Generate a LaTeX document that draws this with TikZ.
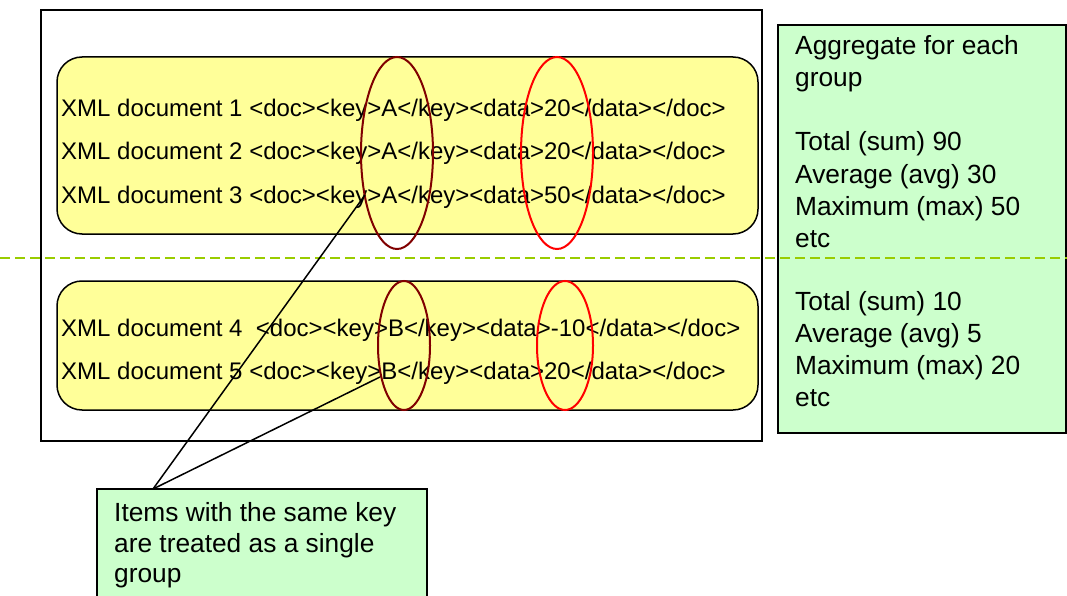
\documentclass[tikz,border=0pt]{standalone}
\usepackage{fontspec}
\setmainfont{Liberation Sans}
\definecolor{boxyellow}{HTML}{FFFF99}
\definecolor{boxgreen}{HTML}{CCFFCC}
\definecolor{keyred}{HTML}{800000}
\definecolor{datared}{HTML}{FF0000}
\definecolor{sepgreen}{HTML}{99CC00}
\tikzset{
  groupbox/.style={draw=black, line width=1.5pt, fill=boxyellow, rounded corners=25pt},
  notebox/.style={draw=black, line width=1.5pt, fill=boxgreen},
  txt/.style={anchor=base west, inner sep=0pt, font=\fontsize{24}{32}\selectfont},
  notetxt/.style={anchor=base west, inner sep=0pt, font=\fontsize{26.3}{32}\selectfont},
  keyring/.style={draw=keyred, line width=2pt},
  dataring/.style={draw=datared, line width=2pt},
  pointer/.style={draw=black, line width=1.5pt},
}
\begin{document}
\begin{tikzpicture}[x=1pt,y=-1pt]
\useasboundingbox (0,0) rectangle (1067,596);
\clip (0,0) rectangle (1067,596);
% outer frame
\draw[line width=1.5pt] (41,10) rectangle (762,441);
% group boxes
\draw[groupbox] (57,57) rectangle (758,234);
\draw[groupbox] (57,281) rectangle (758,410);
% documents
\node[txt] (d1) at (61,117) {XML document 1 <doc><key>A</key><data>20</data></doc>};
\node[txt] (d2) at (61,160) {XML document 2 <doc><key>A</key><data>20</data></doc>};
\node[txt] (d3) at (61,203) {XML document 3 <doc><key>A</key><data>50</data></doc>};
\node[txt] (d4) at (61,336) {XML document 4\ \ <doc><key>B</key><data>-10</data></doc>};
\node[txt] (d5) at (61,379) {XML document 5 <doc><key>B</key><data>20</data></doc>};
% rings
\draw[keyring] (397,153) ellipse [x radius=36pt, y radius=96pt];
\draw[dataring] (557,153) ellipse [x radius=36pt, y radius=96pt];
\draw[keyring] (404,345.5) ellipse [x radius=26pt, y radius=64.5pt];
\draw[dataring] (565,345.5) ellipse [x radius=28pt, y radius=64.5pt];
% aggregate box
\draw[notebox] (778,25) rectangle (1066,433);
\node[notetxt] (a1) at (795,55) {Aggregate for each};
\node[notetxt] (a2) at (795,87) {group};
\node[notetxt] (a3) at (795,151) {Total (sum) 90};
\node[notetxt] (a4) at (795,183) {Average (avg) 30};
\node[notetxt] (a5) at (795,215) {Maximum (max) 50};
\node[notetxt] (a6) at (795,247) {etc};
\node[notetxt] (b3) at (795,310) {Total (sum) 10};
\node[notetxt] (b4) at (795,342) {Average (avg) 5};
\node[notetxt] (b5) at (795,374) {Maximum (max) 20};
\node[notetxt] (b6) at (795,406) {etc};
% separator
\draw[sepgreen, line width=1.5pt, dash pattern=on 10pt off 5pt] (0,258) -- (1067,258);
% note box
\draw[notebox] (97,489) rectangle (427,610);
\node[notetxt] (n1) at (114,521) {Items with the same key};
\node[notetxt] (n2) at (114,552) {are treated as a single};
\node[notetxt] (n3) at (114,582) {group};
% pointers
\coordinate (tip) at (153,489);
\coordinate (ka) at (365,195);
\coordinate (kb) at (380,377);
\draw[pointer] (tip) -- (ka);
\draw[pointer] (tip) -- (kb);
\end{tikzpicture}
\end{document}
